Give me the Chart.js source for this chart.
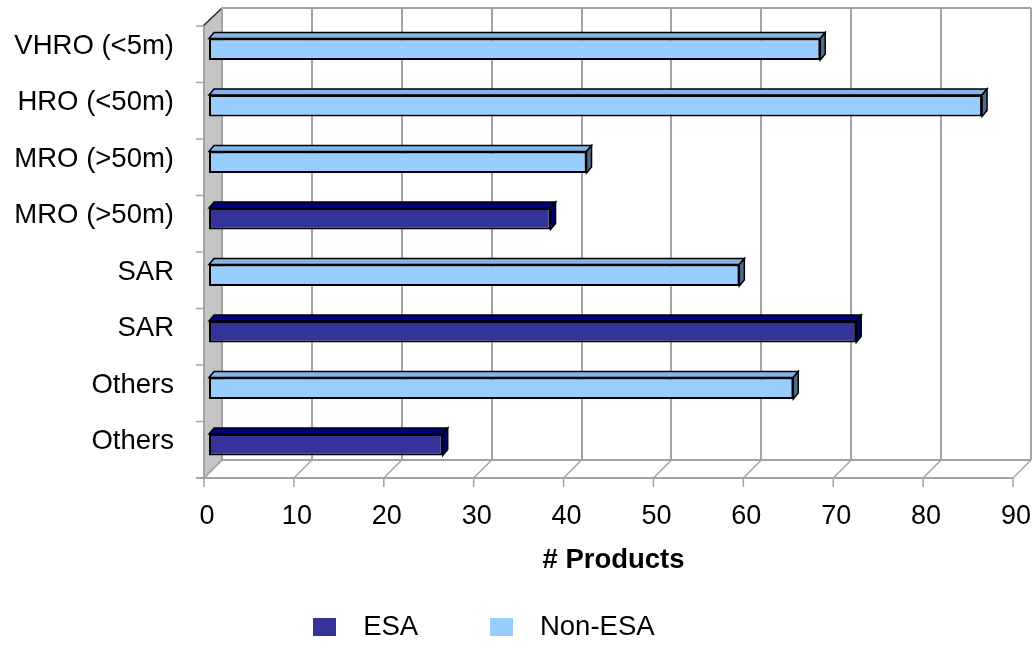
<!DOCTYPE html>
<html>
<head>
<meta charset="utf-8">
<script src="https://cdn.jsdelivr.net/npm/chart.js@4.4.1/dist/chart.umd.min.js"></script>
<style>
html,body{margin:0;padding:0;background:#ffffff;}
#wrap{width:1034px;height:646px;position:relative;}
</style>
</head>
<body>
<div id="wrap"><canvas id="c" width="1034" height="646"></canvas></div>
<script>
// ---- data ----
const categories = ["VHRO (<5m)", "HRO (<50m)", "MRO (>50m)", "MRO (>50m)", "SAR", "SAR", "Others", "Others"];
const seriesNames = ["ESA", "Non-ESA"];
const esaValues    = [null, null, null, 38, null, 72, null, 26];
const nonEsaValues = [68, 86, 42, null, 59, null, 65, null];
const xTicks = [0, 10, 20, 30, 40, 50, 60, 70, 80, 90];
const xTitle = "# Products";

// ---- styles ----
const FONT = "'Liberation Sans', Arial, sans-serif";
const faceColors = {
  "ESA":     { front: "#333399", top: "#000080", side: "#00006a" },
  "Non-ESA": { front: "#99ccff", top: "#84b5e6", side: "#4d6b8c" }
};
const GRID = "#a3a3a3";
const DX = 5, DY = 6;          // bar depth
const BACK = 13, FRONT = 5;    // wall depth offsets

function swatch(color) {
  const c = document.createElement('canvas');
  c.width = 23; c.height = 18;
  const g = c.getContext('2d');
  g.fillStyle = color; g.fillRect(0, 0, 23, 18);
  return c;
}

const wallsPlugin = {
  id: 'walls3d',
  afterLayout(chart) {
    const lg = chart.legend;
    if (lg) { lg.left -= 32; lg.right -= 32; lg.top += 5; lg.bottom += 5; }
  },
  beforeDatasetsDraw(chart) {
    const ctx = chart.ctx;
    const xs = chart.scales.x;
    const a = chart.chartArea;
    const L = a.left, T = a.top, B = a.bottom;
    const R = xs.getPixelForValue(xTicks[xTicks.length - 1]);
    ctx.save();
    // left side wall
    ctx.beginPath();
    ctx.moveTo(L - FRONT, B + FRONT);
    ctx.lineTo(L + BACK, B - BACK);
    ctx.lineTo(L + BACK, T - BACK);
    ctx.lineTo(L - FRONT, T + FRONT);
    ctx.closePath();
    ctx.fillStyle = "#c4c4c4";
    ctx.fill();
    ctx.strokeStyle = GRID; ctx.lineWidth = 1.5; ctx.stroke();
    // top-left dark edge
    ctx.beginPath();
    ctx.moveTo(L - FRONT - 1, T + FRONT);
    ctx.lineTo(L + BACK, T - BACK);
    ctx.strokeStyle = "#333"; ctx.lineWidth = 1.5; ctx.stroke();
    // back wall grid
    ctx.strokeStyle = GRID; ctx.lineWidth = 2;
    xTicks.forEach(v => {
      const px = Math.round(xs.getPixelForValue(v) + BACK);
      ctx.beginPath(); ctx.moveTo(px, T - BACK); ctx.lineTo(px, B - BACK); ctx.stroke();
    });
    ctx.beginPath(); ctx.moveTo(L + BACK, T - BACK); ctx.lineTo(R + BACK, T - BACK); ctx.stroke();
    ctx.beginPath(); ctx.moveTo(L + BACK, B - BACK); ctx.lineTo(R + BACK, B - BACK); ctx.stroke();
    // floor diagonals + front axis ticks
    ctx.lineWidth = 1.5;
    xTicks.forEach(v => {
      const px = xs.getPixelForValue(v);
      ctx.beginPath(); ctx.moveTo(px - FRONT, B + FRONT); ctx.lineTo(px + BACK, B - BACK); ctx.stroke();
      ctx.beginPath(); ctx.moveTo(px - FRONT, B + FRONT); ctx.lineTo(px - FRONT, B + FRONT + 9); ctx.stroke();
    });
    ctx.lineWidth = 2;
    ctx.beginPath(); ctx.moveTo(L - FRONT - 8, B + FRONT); ctx.lineTo(R - FRONT, B + FRONT); ctx.stroke();
    // front category axis
    ctx.beginPath(); ctx.moveTo(L - FRONT, T + FRONT); ctx.lineTo(L - FRONT, B + FRONT); ctx.stroke();
    const n = categories.length;
    const step = (B - T) / n;
    ctx.lineWidth = 1.5;
    for (let i = 0; i < n; i++) {
      const y = T + i * step + FRONT;
      ctx.beginPath(); ctx.moveTo(L - FRONT - 8, y); ctx.lineTo(L - FRONT, y); ctx.stroke();
    }
    ctx.restore();
  },
  afterDatasetsDraw(chart) {
    const ctx = chart.ctx;
    ctx.save();
    chart.data.datasets.forEach((ds, di) => {
      const meta = chart.getDatasetMeta(di);
      const col = faceColors[ds.label];
      meta.data.forEach((el, i) => {
        if (ds.data[i] == null) return;
        const p = el.getProps(['x', 'y', 'base', 'height'], true);
        const top = p.y - p.height / 2, bot = p.y + p.height / 2;
        const left = Math.min(p.x, p.base), right = Math.max(p.x, p.base);
        ctx.lineWidth = 1.5;
        ctx.strokeStyle = "#000";
        // top face
        ctx.beginPath();
        ctx.moveTo(left, top);
        ctx.lineTo(left + DX, top - DY);
        ctx.lineTo(right + DX, top - DY);
        ctx.lineTo(right, top);
        ctx.closePath();
        ctx.fillStyle = col.top; ctx.fill(); ctx.stroke();
        // side face
        ctx.beginPath();
        ctx.moveTo(right, top);
        ctx.lineTo(right + DX, top - DY);
        ctx.lineTo(right + DX, bot - DY);
        ctx.lineTo(right, bot);
        ctx.closePath();
        ctx.fillStyle = col.side; ctx.fill(); ctx.stroke();
      });
    });
    ctx.restore();
  }
};

const chart = new Chart(document.getElementById('c'), {
  type: 'bar',
  data: {
    labels: categories,
    datasets: [
      { label: seriesNames[0], data: esaValues, backgroundColor: faceColors["ESA"].front,
        borderColor: "#000", borderWidth: 2, borderSkipped: false, grouped: false,
        barPercentage: 0.38, categoryPercentage: 1 },
      { label: seriesNames[1], data: nonEsaValues, backgroundColor: faceColors["Non-ESA"].front,
        borderColor: "#000", borderWidth: 2, borderSkipped: false, grouped: false,
        barPercentage: 0.38, categoryPercentage: 1 }
    ]
  },
  options: {
    indexAxis: 'y',
    responsive: false,
    animation: false,
    devicePixelRatio: 1,
    layout: { padding: { top: 21, right: 16, left: 0, bottom: 0 } },
    scales: {
      x: {
        min: 0, max: 90,
        grid: { display: false, drawTicks: false },
        border: { display: false },
        afterBuildTicks: s => { s.ticks = xTicks.map(v => ({ value: v })); },
        afterFit: s => { s.height = 77.5; s.paddingLeft = 0; s.paddingRight = 0; s.paddingTop = 0; s.paddingBottom = 0; },
        ticks: { color: "#000", padding: 27, labelOffset: -2, font: { family: FONT, size: 27 } },
        title: { display: true, text: xTitle, color: "#000", padding: { top: 0, bottom: -26 },
                 font: { family: FONT, size: 27.5, weight: 'bold' } }
      },
      y: {
        grid: { display: false, drawTicks: false },
        border: { display: false },
        afterFit: s => { s.width = 209; s.paddingLeft = 0; s.paddingRight = 0; s.paddingTop = 0; s.paddingBottom = 0; },
        ticks: { color: "#000", padding: 35, labelOffset: -3, font: { family: FONT, size: 27.5 } }
      }
    },
    plugins: {
      tooltip: { enabled: false },
      legend: {
        display: true,
        position: 'bottom',
        labels: {
          usePointStyle: true,
          pointStyleWidth: 50,
          padding: 58,
          color: "#000",
          font: { family: FONT, size: 27.5 },
          generateLabels: (ch) => ch.data.datasets.map((ds, i) => ({
            text: ds.label,
            fillStyle: ds.backgroundColor,
            strokeStyle: ds.backgroundColor,
            lineWidth: 0,
            pointStyle: swatch(ds.backgroundColor),
            hidden: !ch.isDatasetVisible(i),
            datasetIndex: i,
            fontColor: "#000"
          }))
        }
      }
    }
  },
  plugins: [wallsPlugin]
});
</script>
</body>
</html>
